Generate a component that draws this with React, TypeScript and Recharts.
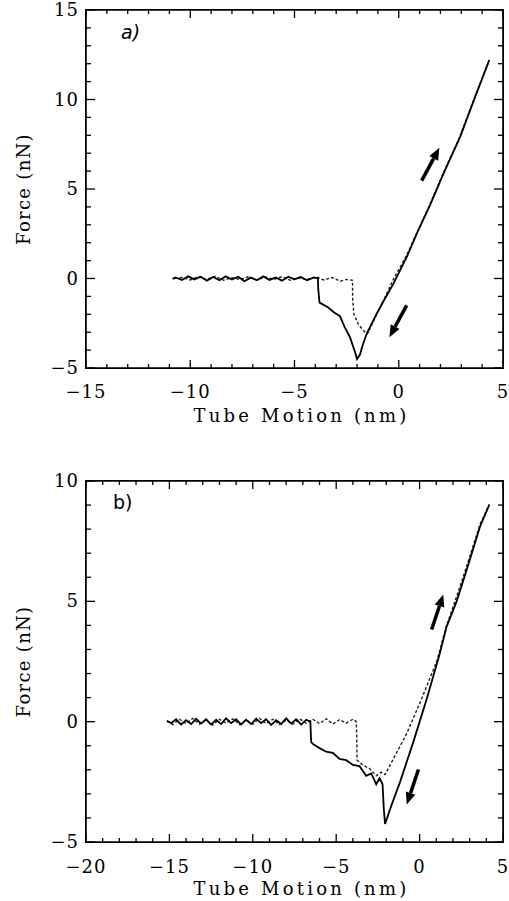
import React from 'react';
import { LineChart, Line, XAxis, YAxis, ReferenceLine, Label } from 'recharts';

const FONT = '"DejaVu Serif", serif';
const MINUS = '\u2212';

// tick positions (major every 5, minor every 1)
const aXTicks = [-15, -14, -13, -12, -11, -10, -9, -8, -7, -6, -5, -4, -3, -2, -1, 0, 1, 2, 3, 4, 5];
const aYTicks = [-5, -4, -3, -2, -1, 0, 1, 2, 3, 4, 5, 6, 7, 8, 9, 10, 11, 12, 13, 14, 15];
const bXTicks = [-20, -19, -18, -17, -16, -15, -14, -13, -12, -11, -10, -9, -8, -7, -6, -5, -4, -3, -2, -1, 0, 1, 2, 3, 4, 5];
const bYTicks = [-5, -4, -3, -2, -1, 0, 1, 2, 3, 4, 5, 6, 7, 8, 9, 10];

// a) approach (dashed): flat, snap-in, then contact line
const aApproach: [number, number][] = [
  [-10.75, 0], [-10.4, 0.06], [-10.0, -0.08], [-9.6, 0.1], [-9.2, -0.05], [-8.8, 0.12], [-8.4, -0.1],
  [-8.0, 0.05], [-7.6, -0.06], [-7.2, 0.1], [-6.8, -0.08], [-6.4, 0.08], [-6.0, -0.05], [-5.6, 0.1],
  [-5.2, -0.1], [-4.8, 0.05], [-4.4, -0.06], [-4.0, 0.1], [-3.6, -0.08], [-3.2, 0.05], [-2.8, -0.15],
  [-2.5, -0.05], [-2.22, -0.1], [-2.21, -1.2], [-2.15, -2.0], [-1.94, -2.55], [-1.7, -2.9], [-1.5, -3.1],
  [-1.1, -2.1], [-0.74, -1.25], [-0.26, -0.05], [0.38, 1.3], [1.5, 4.15], [2.14, 5.9], [2.94, 7.95], [3.6, 10.0], [4.34, 12.2],
];

// a) retract (solid): contact line down to the minimum, pull-off, flat
const aRetract: [number, number][] = [
  [4.34, 12.2], [3.6, 9.95], [2.94, 7.9], [2.14, 5.85], [1.5, 4.1], [0.9, 2.6], [0.38, 1.19], [-0.26, -0.3],
  [-0.7, -1.2], [-1.06, -1.97], [-1.54, -3.09], [-1.75, -3.8], [-1.86, -4.25], [-2.0, -4.5], [-2.1, -4.1],
  [-2.34, -3.28], [-2.6, -2.7], [-2.82, -2.1], [-3.1, -1.9], [-3.4, -1.6], [-3.8, -1.35], [-3.86, -0.6],
  [-3.88, 0.02], [-4.1, 0.05], [-4.4, -0.1], [-4.7, 0.08], [-5.0, -0.05], [-5.3, 0.1], [-5.6, -0.12],
  [-5.9, 0.06], [-6.2, -0.08], [-6.5, 0.12], [-6.8, -0.1], [-7.1, 0.05], [-7.4, -0.15], [-7.7, 0.1],
  [-8.0, -0.06], [-8.3, 0.12], [-8.6, -0.1], [-8.9, 0.08], [-9.2, -0.12], [-9.5, 0.1], [-9.8, -0.05],
  [-10.1, 0.12], [-10.4, -0.08], [-10.7, 0.06], [-10.85, -0.02],
];

// b) approach (dashed)
const bApproach: [number, number][] = [
  [-15.15, 0.02], [-14.8, -0.12], [-14.4, 0.1], [-14.0, -0.08], [-13.6, 0.14], [-13.2, -0.1], [-12.8, 0.08],
  [-12.4, -0.14], [-12.0, 0.1], [-11.6, -0.06], [-11.2, 0.12], [-10.8, -0.12], [-10.4, 0.08], [-10.0, -0.1],
  [-9.6, 0.14], [-9.2, -0.08], [-8.8, 0.1], [-8.4, -0.12], [-8.0, 0.06], [-7.6, -0.1], [-7.2, 0.12],
  [-6.8, -0.06], [-6.4, 0.1], [-6.0, -0.08], [-5.6, 0.12], [-5.2, -0.1], [-4.8, 0.08], [-4.4, -0.06],
  [-4.0, 0.1], [-3.8, 0.0], [-3.77, -0.6], [-3.75, -1.6], [-3.4, -1.8], [-3.0, -1.95], [-2.6, -2.25],
  [-2.3, -2.1], [-2.07, -2.2], [-1.5, -1.45], [-0.8, -0.53], [0.02, 0.78], [1.03, 2.51], [1.62, 4.0],
  [2.22, 5.2], [2.82, 6.45], [3.62, 8.2], [4.18, 9.02],
];

// b) retract (solid)
const bRetract: [number, number][] = [
  [4.18, 9.02], [3.62, 8.1], [2.82, 6.3], [2.22, 5.0], [1.62, 3.95], [1.22, 2.85], [0.43, 0.95], [-0.38, -0.85],
  [-1.17, -2.5], [-1.7, -3.5], [-2.07, -4.25], [-2.15, -3.6], [-2.22, -2.6], [-2.4, -2.35], [-2.6, -2.6],
  [-2.9, -2.15], [-3.2, -2.25], [-3.6, -1.85], [-4.0, -1.8], [-4.4, -1.6], [-4.8, -1.55], [-5.2, -1.3],
  [-5.6, -1.25], [-6.0, -1.1], [-6.35, -0.95], [-6.5, -0.85], [-6.55, 0.0], [-6.8, 0.08], [-7.1, -0.12],
  [-7.4, 0.1], [-7.7, -0.08], [-8.0, 0.14], [-8.3, -0.1], [-8.6, 0.06], [-8.9, -0.14], [-9.2, 0.1],
  [-9.5, -0.06], [-9.8, 0.12], [-10.1, -0.1], [-10.4, 0.08], [-10.7, -0.12], [-11.0, 0.1], [-11.3, -0.06],
  [-11.6, 0.14], [-11.9, -0.1], [-12.2, 0.08], [-12.5, -0.12], [-12.8, 0.1], [-13.1, -0.08], [-13.4, 0.12],
  [-13.7, -0.1], [-14.0, 0.06], [-14.3, -0.12], [-14.6, 0.1], [-14.9, -0.06], [-15.15, 0.04],
];

// direction arrows: [tail, head] in data units
const aArrows: [number, number][][] = [
  [[1.1, 5.47], [1.95, 7.3]],
  [[0.38, -1.5], [-0.45, -3.28]],
];
const bArrows: [number, number][][] = [
  [[0.72, 3.83], [1.42, 5.28]],
  [[-0.07, -1.99], [-0.77, -3.44]],
];

const toPts = (arr: [number, number][]) => arr.map(([x, y]) => ({ x, y }));
const fmt = (v: number) => (v < 0 ? MINUS + Math.abs(v) : String(v));
const isMajor = (v: number) => v % 5 === 0;

const tickText = { fontFamily: FONT, fontSize: 18, fill: '#000', letterSpacing: 1 };
const titleStyle = { fontFamily: FONT, fontSize: 18, fill: '#000', letterSpacing: 3.2 };

const tickShape = (dx: number, dy: number) => (p: any) => (
  <line x1={p.x1} y1={p.y1} x2={p.x1 + dx} y2={p.y1 + dy} stroke="#000" strokeWidth={1.3} />
);

const arrowShape = (p: any) => {
  const { x1, y1, x2, y2 } = p;
  const ang = Math.atan2(y2 - y1, x2 - x1);
  const L = 12;
  const W = 5;
  const bx = x2 - L * Math.cos(ang);
  const by = y2 - L * Math.sin(ang);
  const px = -Math.sin(ang) * W;
  const py = Math.cos(ang) * W;
  return (
    <g>
      <line x1={x1} y1={y1} x2={bx} y2={by} stroke="#000" strokeWidth={3.5} />
      <polygon points={`${x2},${y2} ${bx + px},${by + py} ${bx - px},${by - py}`} fill="#000" />
    </g>
  );
};

interface PanelProps {
  height: number;
  top: number;
  xAxisHeight: number;
  xDomain: [number, number];
  yDomain: [number, number];
  xTicks: number[];
  yTicks: number[];
  approach: [number, number][];
  retract: [number, number][];
  arrows: [number, number][][];
  labelDy: number;
  titleOffset: number;
}

// frame, inward ticks, curves and arrows (axes hidden, plot area set by margins)
function DataLayer(props: PanelProps) {
  const { height, top, xAxisHeight, xDomain, yDomain, xTicks, yTicks, approach, retract, arrows } = props;
  const [x0, x1] = xDomain;
  const [y0, y1] = yDomain;
  return (
    <LineChart width={509} height={height} margin={{ top, right: 6, bottom: xAxisHeight, left: 86 }}>
      <XAxis type="number" dataKey="x" domain={xDomain} allowDataOverflow hide />
      <YAxis type="number" domain={yDomain} allowDataOverflow hide />

      <ReferenceLine x={x0} stroke="#000" strokeWidth={1.6} ifOverflow="visible" />
      <ReferenceLine x={x1} stroke="#000" strokeWidth={1.6} ifOverflow="visible" />
      <ReferenceLine y={y0} stroke="#000" strokeWidth={1.6} ifOverflow="visible" />
      <ReferenceLine y={y1} stroke="#000" strokeWidth={1.6} ifOverflow="visible" />

      {xTicks.map((t) => (
        <ReferenceLine
          key={`xb${t}`}
          segment={[{ x: t, y: y0 }, { x: t, y: y0 }]}
          ifOverflow="visible"
          shape={tickShape(0, isMajor(t) ? -8 : -4)}
        />
      ))}
      {xTicks.map((t) => (
        <ReferenceLine
          key={`xt${t}`}
          segment={[{ x: t, y: y1 }, { x: t, y: y1 }]}
          ifOverflow="visible"
          shape={tickShape(0, isMajor(t) ? 8 : 4)}
        />
      ))}
      {yTicks.map((t) => (
        <ReferenceLine
          key={`yl${t}`}
          segment={[{ x: x0, y: t }, { x: x0, y: t }]}
          ifOverflow="visible"
          shape={tickShape(isMajor(t) ? 9 : 5, 0)}
        />
      ))}
      {yTicks.map((t) => (
        <ReferenceLine
          key={`yr${t}`}
          segment={[{ x: x1, y: t }, { x: x1, y: t }]}
          ifOverflow="visible"
          shape={tickShape(isMajor(t) ? -9 : -5, 0)}
        />
      ))}

      <Line
        data={toPts(approach)}
        dataKey="y"
        type="linear"
        dot={false}
        stroke="#222"
        strokeWidth={1.4}
        strokeDasharray="3 2"
        isAnimationActive={false}
      />
      <Line
        data={toPts(retract)}
        dataKey="y"
        type="linear"
        dot={false}
        stroke="#000"
        strokeWidth={1.8}
        isAnimationActive={false}
      />
      {arrows.map((a, i) => (
        <ReferenceLine
          key={i}
          segment={[
            { x: a[0][0], y: a[0][1] },
            { x: a[1][0], y: a[1][1] },
          ]}
          shape={arrowShape}
        />
      ))}
    </LineChart>
  );
}

// tick labels and axis titles only
function AxisLayer(props: PanelProps) {
  const { height, top, xAxisHeight, xDomain, yDomain, xTicks, yTicks, retract, labelDy, titleOffset } = props;
  return (
    <LineChart width={509} height={height} margin={{ top, right: 6, bottom: 0, left: 0 }}>
      <XAxis
        type="number"
        dataKey="x"
        domain={xDomain}
        ticks={xTicks}
        interval={0}
        allowDataOverflow
        height={xAxisHeight}
        tickSize={0}
        tickMargin={0}
        tickLine={false}
        axisLine={false}
        tick={(p: any) => (
          <text x={p.x} y={p.y + labelDy} textAnchor="middle" style={tickText}>
            {isMajor(p.payload.value) ? fmt(p.payload.value) : ''}
          </text>
        )}
      >
        <Label value="Tube Motion (nm)" position="insideBottom" offset={titleOffset} dx={7} style={titleStyle} />
      </XAxis>
      <YAxis
        type="number"
        domain={yDomain}
        ticks={yTicks}
        interval={0}
        allowDataOverflow
        width={86}
        tickSize={0}
        tickMargin={0}
        tickLine={false}
        axisLine={false}
        tick={(p: any) => (
          <text x={p.x - 7} y={p.y + 6} textAnchor="end" style={tickText}>
            {isMajor(p.payload.value) ? fmt(p.payload.value) : ''}
          </text>
        )}
      >
        <Label
          value="Force (nN)"
          angle={-90}
          position="insideLeft"
          offset={24}
          style={{ ...titleStyle, letterSpacing: 1.3, textAnchor: 'middle' }}
        />
      </YAxis>
      <Line data={toPts(retract)} dataKey="y" dot={false} stroke="none" isAnimationActive={false} />
    </LineChart>
  );
}

function Panel(props: PanelProps & { offsetTop: number }) {
  const layer = { position: 'absolute' as const, left: 0, top: 0 };
  const plotBottom = props.height - props.xAxisHeight;
  return (
    <div style={{ position: 'absolute', left: 0, top: props.offsetTop, width: 509, height: props.height }}>
      <div style={layer}>
        <DataLayer {...props} />
      </div>
      <div style={{ ...layer, pointerEvents: 'none' }}>
        <AxisLayer {...props} />
      </div>
      {/* plot frame, same box as the chart's plot area */}
      <div
        style={{
          position: 'absolute',
          left: 85,
          top: props.top - 1,
          width: 419,
          height: plotBottom - props.top + 2,
          border: '1.5px solid #000',
          boxSizing: 'border-box',
          pointerEvents: 'none',
        }}
      />
    </div>
  );
}

const panelLetter = {
  position: 'absolute' as const,
  fontFamily: '"DejaVu Sans", sans-serif',
  fontSize: 19,
  color: '#000',
};

export default function App() {
  return (
    <div style={{ position: 'absolute', left: 0, top: 0, width: 509, height: 901, background: '#fff' }}>
      <Panel
        offsetTop={0}
        height={440}
        top={10}
        xAxisHeight={72}
        xDomain={[-15, 5]}
        yDomain={[-5, 15]}
        xTicks={aXTicks}
        yTicks={aYTicks}
        approach={aApproach}
        retract={aRetract}
        arrows={aArrows}
        labelDy={30}
        titleOffset={18}
      />
      <Panel
        offsetTop={440}
        height={461}
        top={41}
        xAxisHeight={59}
        xDomain={[-20, 5]}
        yDomain={[-5, 10]}
        xTicks={bXTicks}
        yTicks={bYTicks}
        approach={bApproach}
        retract={bRetract}
        arrows={bArrows}
        labelDy={31}
        titleOffset={6}
      />
      <span style={{ ...panelLetter, left: 121, top: 21, fontStyle: 'italic' }}>a)</span>
      <span style={{ ...panelLetter, left: 113, top: 491 }}>b)</span>
    </div>
  );
}
